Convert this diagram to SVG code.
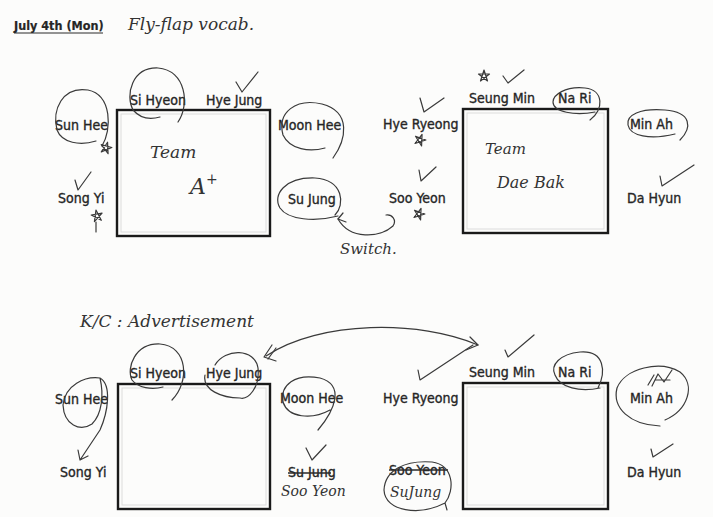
<svg xmlns="http://www.w3.org/2000/svg" width="713" height="517" viewBox="0 0 713 517">
<style>
.lbl{font-family:"Liberation Sans Narrow","DejaVu Sans Condensed","Liberation Sans",sans-serif;font-size:14px;fill:#262626;stroke:#262626;stroke-width:0.35;font-stretch:condensed}
.hw{font-family:"DejaVu Serif","Liberation Serif",serif;font-style:italic;fill:#333}
.box{fill:none;stroke:#1a1a1a;stroke-width:2.4}
.inner{fill:none;stroke:#dcdcdc;stroke-width:1}
.pen{fill:none;stroke:#3a3a3a;stroke-width:1.2;stroke-linecap:round;stroke-linejoin:round}
.strike{stroke:#2a2a2a;stroke-width:1.3}
</style>
<defs>
<path id="star" class="pen" d="M0,-6 L3.5,5 L-5.5,-2 L5.5,-2 L-3.5,5 Z"/>
</defs>
<rect width="713" height="517" fill="#fcfcfb"/>

<!-- Title -->
<g id="title">
<text class="lbl" x="14" y="30" style="font-weight:bold;font-size:12.5px;stroke-width:0.2">July 4th (Mon)</text>
<line x1="14" y1="33" x2="103" y2="33" stroke="#2a2a2a" stroke-width="1"/>
<text class="hw" x="128" y="30" style="font-size:17px">Fly-flap vocab.</text>
</g>

<!-- Top-left team -->
<g id="teamA">
<rect class="box" x="117" y="110" width="153" height="126"/>
<rect class="inner" x="121" y="114" width="145" height="118"/>
<text class="hw" x="150" y="158" style="font-size:17px">Team</text>
<text class="hw" x="190" y="194" style="font-size:22px">A<tspan dy="-10" style="font-size:14px">+</tspan></text>
</g>
<g id="t-sihyeon"><text class="lbl" x="130" y="105">Si Hyeon</text>
<path class="pen" d="M178,122 C190,105 186,70 158,68 C132,67 125,95 133,110 C140,118 150,120 160,117"/></g>
<g id="t-hyejung"><text class="lbl" x="206" y="105">Hye Jung</text>
<path class="pen" d="M236,82 L242,92 L258,72"/></g>
<g id="t-sunhee"><text class="lbl" x="55" y="130">Sun Hee</text>
<path class="pen" d="M102,146 C112,130 112,95 88,90 C62,86 52,110 57,130 C62,143 80,146 96,141"/>
<use href="#star" transform="translate(106,148) rotate(15)"/></g>
<g id="t-songyi"><text class="lbl" x="58" y="203">Song Yi</text>
<path class="pen" d="M75,180 L78,190 L91,172"/>
<use href="#star" transform="translate(97,216) rotate(-10)"/>
<path class="pen" d="M96,222 L96,232"/></g>
<g id="t-moonhee"><text class="lbl" x="278" y="130">Moon Hee</text>
<path class="pen" d="M333,158 C346,140 352,112 322,104 C296,98 277,112 283,135 C290,150 310,152 325,148"/></g>
<g id="t-sujung"><text class="lbl" x="288" y="204">Su Jung</text>
<path class="pen" d="M335,215 C345,205 344,180 315,178 C285,177 272,195 280,208 C288,220 315,222 338,216"/></g>

<!-- Top-right team -->
<g id="teamB">
<rect class="box" x="463" y="109" width="145" height="124"/>
<rect class="inner" x="467" y="113" width="137" height="116"/>
<text class="hw" x="485" y="154" style="font-size:15px">Team</text>
<text class="hw" x="497" y="188" style="font-size:16px">Dae Bak</text>
</g>
<g id="t-seungmin"><text class="lbl" x="469" y="103">Seung Min</text>
<use href="#star" transform="translate(484,76)"/>
<path class="pen" d="M503,76 L508,83 L524,70"/></g>
<g id="t-nari"><text class="lbl" x="558" y="103">Na Ri</text>
<path class="pen" d="M590,120 C604,110 604,90 585,88 C565,86 553,95 553,102 C553,112 575,116 595,112"/></g>
<g id="t-hyeryeong"><text class="lbl" x="383" y="129">Hye Ryeong</text>
<path class="pen" d="M420,98 L424,112 L444,98"/>
<use href="#star" transform="translate(420,140) rotate(20)"/></g>
<g id="t-minah"><text class="lbl" x="630" y="129">Min Ah</text>
<path class="pen" d="M680,140 C692,128 692,112 665,110 C640,108 626,115 628,125 C630,136 650,140 675,134"/></g>
<g id="t-sooyeon"><text class="lbl" x="389" y="203">Soo Yeon</text>
<path class="pen" d="M419,170 L421,181 L436,167"/>
<use href="#star" transform="translate(419,214) rotate(20)"/></g>
<g id="t-dahyun"><text class="lbl" x="627" y="203">Da Hyun</text>
<path class="pen" d="M660,176 L662,186 L694,165"/></g>

<!-- Switch -->
<g id="switch-label"><text class="hw" x="340" y="254" style="font-size:15px">Switch.</text></g>

<!-- Bottom section -->
<g id="kc-title"><text class="hw" x="80" y="327" style="font-size:17px">K/C : Advertisement</text></g>

<g id="teamA2">
<rect class="box" x="118" y="384" width="152" height="125"/>
<rect class="inner" x="122" y="388" width="144" height="117"/>
</g>
<g id="b-sihyeon"><text class="lbl" x="130" y="378">Si Hyeon</text>
<path class="pen" d="M172,400 C190,382 188,346 160,344 C135,343 126,368 132,380 C138,388 152,390 163,387"/></g>
<g id="b-hyejung"><text class="lbl" x="206" y="378">Hye Jung</text>
<path class="pen" d="M215,365 C225,348 255,348 258,368 C260,388 248,400 240,398 C222,398 202,390 205,375"/></g>
<g id="b-sunhee"><text class="lbl" x="55" y="404">Sun Hee</text>
<path class="pen" d="M100,378 C85,376 65,385 63,405 C64,425 80,432 92,424 C102,414 104,395 100,378 C112,385 108,412 100,430 L80,460 M80,460 L78,450 M80,460 L88,456"/></g>
<g id="b-songyi"><text class="lbl" x="60" y="477">Song Yi</text></g>
<g id="b-moonhee"><text class="lbl" x="280" y="403">Moon Hee</text>
<path class="pen" d="M318,430 C335,410 345,385 320,378 C295,373 280,385 283,402 C288,418 312,420 330,410"/></g>
<g id="b-sujung"><text class="lbl" x="288" y="477">Su Jung</text>
<line class="strike" x1="288" y1="473" x2="331" y2="473"/>
<path class="pen" d="M306,448 L312,460 L326,445"/>
<text class="hw" x="281" y="496" style="font-size:14px">Soo Yeon</text></g>

<g id="teamB2">
<rect class="box" x="463" y="383" width="145" height="126"/>
<rect class="inner" x="467" y="387" width="137" height="118"/>
</g>
<g id="b-seungmin"><text class="lbl" x="469" y="377">Seung Min</text>
<path class="pen" d="M505,350 L508,357 L534,335"/></g>
<g id="b-nari"><text class="lbl" x="558" y="377">Na Ri</text>
<path class="pen" d="M598,388 C606,372 605,350 580,352 C560,354 550,365 555,375 C560,388 580,392 600,388"/></g>
<g id="b-hyeryeong"><text class="lbl" x="383" y="403">Hye Ryeong</text>
<path class="pen" d="M418,370 L420,380 L473,345"/></g>
<g id="b-minah"><text class="lbl" x="630" y="403">Min Ah</text>
<path class="pen" d="M665,420 C688,410 696,385 680,372 C660,360 625,368 617,388 C612,408 630,425 660,426"/>
<path class="pen" d="M648,385 L654,375 M652,386 L658,374 L664,382 L672,370 M656,380 L670,380"/></g>
<g id="b-dahyun"><text class="lbl" x="627" y="477">Da Hyun</text>
<path class="pen" d="M651,449 L653,457 L673,444"/></g>
<g id="b-sooyeon"><text class="lbl" x="389" y="475">Soo Yeon</text>
<line class="strike" x1="389" y1="470" x2="448" y2="470"/>
<text class="hw" x="390" y="497" style="font-size:14px">SuJung</text>
<path class="pen" d="M445,503 C455,490 454,465 432,462 C405,460 385,470 384,490 C385,512 420,516 445,503 L447,510"/></g>

<!-- Connectors -->
<g id="connectors">
<path class="pen" d="M338,219 C350,240 380,238 393,226 C397,220 392,214 386,215"/>
<path class="pen" d="M343,213 L338,219 L346,222"/>
<path class="pen" d="M266,356 C320,320 420,320 478,345"/>
<path class="pen" d="M272,345 L264,357 L276,361 M276,348 L268,359"/>
<path class="pen" d="M470,337 L478,345 L466,350"/>
</g>
</svg>
